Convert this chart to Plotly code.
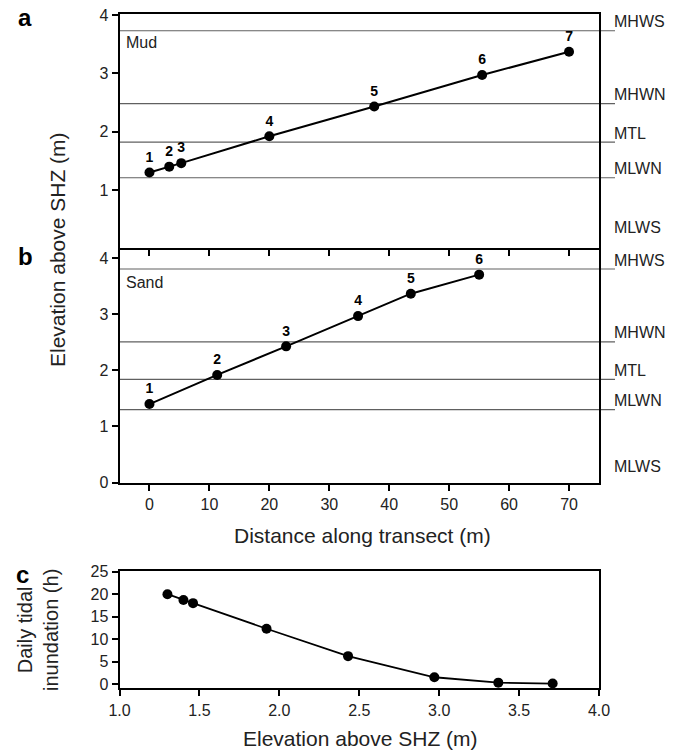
import plotly.graph_objects as go

# ---- data ----
mud_dist = [0, 3.3, 5.3, 20, 37.5, 55.5, 70]
mud_elev = [1.30, 1.40, 1.46, 1.92, 2.43, 2.97, 3.37]
mud_ids = ["1", "2", "3", "4", "5", "6", "7"]

sand_dist = [0, 11.3, 22.8, 34.8, 43.6, 55]
sand_elev = [1.40, 1.92, 2.43, 2.97, 3.37, 3.71]
sand_ids = ["1", "2", "3", "4", "5", "6"]

inund_elev = [1.30, 1.40, 1.46, 1.92, 2.43, 2.97, 3.37, 3.71]
inund_hours = [20.0, 18.7, 18.0, 12.3, 6.2, 1.5, 0.3, 0.1]

level_names = ["MHWS", "MHWN", "MTL", "MLWN", "MLWS"]
mud_levels = [3.73, 2.48, 1.82, 1.21, 0.21]
sand_levels = [3.81, 2.51, 1.84, 1.30, 0.12]

dist_ticks = [0, 10, 20, 30, 40, 50, 60, 70]
elev_ticks = [0, 1, 2, 3, 4]
hour_ticks = [0, 5, 10, 15, 20, 25]
c_x_ticks = [1.0, 1.5, 2.0, 2.5, 3.0, 3.5, 4.0]

# ---- layout geometry (pixels) ----
W, H = 684, 752
FONT = "Liberation Sans, Arial, sans-serif"
xl, xr = 119.5, 599.0


def px(v):
    return v / W


def py(v):
    return 1 - v / H


fig = go.Figure()

fig.add_trace(go.Scatter(
    x=mud_dist, y=mud_elev, mode="lines+markers+text", text=mud_ids,
    textposition="top center",
    textfont=dict(family=FONT, size=14, color="black", weight="bold"),
    line=dict(color="black", width=2), marker=dict(color="black", size=10),
    xaxis="x", yaxis="y", showlegend=False, cliponaxis=False))

fig.add_trace(go.Scatter(
    x=sand_dist, y=sand_elev, mode="lines+markers+text", text=sand_ids,
    textposition="top center",
    textfont=dict(family=FONT, size=14, color="black", weight="bold"),
    line=dict(color="black", width=2), marker=dict(color="black", size=10),
    xaxis="x2", yaxis="y2", showlegend=False, cliponaxis=False))

fig.add_trace(go.Scatter(
    x=inund_elev, y=inund_hours, mode="lines+markers",
    line=dict(color="black", width=1.8), marker=dict(color="black", size=10),
    xaxis="x3", yaxis="y3", showlegend=False, cliponaxis=False))

axis_common = dict(showline=True, linecolor="black", linewidth=2, mirror=True,
                   showgrid=False, zeroline=False, tickcolor="black",
                   ticklen=6, tickwidth=1.5,
                   tickfont=dict(family=FONT, size=16, color="#222"))

fig.update_layout(
    width=W, height=H, margin=dict(l=0, r=0, t=0, b=0, autoexpand=False),
    paper_bgcolor="white", plot_bgcolor="white",
    xaxis=dict(axis_common, domain=[px(xl), px(xr)], range=[-5, 75],
               tickvals=dist_ticks, ticks="outside", showticklabels=False,
               anchor="y"),
    yaxis=dict(axis_common, domain=[py(248.3), py(14)], range=[0, 4.017],
               tickvals=[1, 2, 3, 4], ticks="outside", anchor="x"),
    xaxis2=dict(axis_common, domain=[px(xl), px(xr)], range=[-5, 75],
                tickvals=dist_ticks, ticks="outside", anchor="y2",
                mirror=False),
    yaxis2=dict(axis_common, domain=[py(482.5), py(248.3)], range=[0, 4.18],
                tickvals=elev_ticks, ticks="outside", anchor="x2"),
    xaxis3=dict(axis_common, domain=[px(xl), px(xr)], range=[1, 4],
                tickvals=c_x_ticks, ticktext=[f"{v:.1f}" for v in c_x_ticks],
                ticks="outside", anchor="y3"),
    yaxis3=dict(axis_common, domain=[py(688.3), py(571)], range=[-0.96, 25.16],
                tickvals=hour_ticks, ticks="outside", anchor="x3"),
)

shapes = []
annotations = []
for yref, levels in (("y", mud_levels), ("y2", sand_levels)):
    for name, val in zip(level_names, levels):
        if name != "MLWS":
            shapes.append(dict(type="line", xref="paper", yref=yref,
                               x0=px(xl), x1=px(615), y0=val, y1=val,
                               line=dict(color="#606060", width=1.1),
                               layer="below"))
        annotations.append(dict(x=px(612), y=val, xref="paper", yref=yref,
                                text=name, showarrow=False, xanchor="left",
                                yanchor="middle", yshift=9,
                                font=dict(family=FONT, size=16, color="#222")))

annotations += [
    dict(x=px(124), y=py(42.5), xref="paper", yref="paper", text="Mud",
         showarrow=False, xanchor="left", yanchor="middle",
         font=dict(family=FONT, size=16, color="#222")),
    dict(x=px(124), y=py(282), xref="paper", yref="paper", text="Sand",
         showarrow=False, xanchor="left", yanchor="middle",
         font=dict(family=FONT, size=16, color="#222")),
    dict(x=px(25), y=py(18), xref="paper", yref="paper", text="<b>a</b>",
         showarrow=False, xanchor="center", yanchor="middle",
         font=dict(family=FONT, size=24, color="black")),
    dict(x=px(25), y=py(256), xref="paper", yref="paper", text="<b>b</b>",
         showarrow=False, xanchor="center", yanchor="middle",
         font=dict(family=FONT, size=24, color="black")),
    dict(x=px(22), y=py(574), xref="paper", yref="paper", text="<b>c</b>",
         showarrow=False, xanchor="center", yanchor="middle",
         font=dict(family=FONT, size=24, color="black")),
    dict(x=px(58), y=py(250), xref="paper", yref="paper",
         text="Elevation above SHZ (m)", textangle=-90, showarrow=False,
         xanchor="center", yanchor="middle",
         font=dict(family=FONT, size=21, color="#222")),
    dict(x=px(362), y=py(535), xref="paper", yref="paper",
         text="Distance along transect (m)", showarrow=False,
         xanchor="center", yanchor="middle",
         font=dict(family=FONT, size=21, color="#222")),
    dict(x=px(360), y=py(738), xref="paper", yref="paper",
         text="Elevation above SHZ (m)", showarrow=False,
         xanchor="center", yanchor="middle",
         font=dict(family=FONT, size=21, color="#222")),
    dict(x=px(38), y=py(630), xref="paper", yref="paper",
         text="Daily tidal<br>inundation (h)", textangle=-90, showarrow=False,
         xanchor="center", yanchor="middle",
         font=dict(family=FONT, size=20, color="#222")),
]

fig.update_layout(shapes=shapes, annotations=annotations)
fig.write_html("out.html", config={"displayModeBar": False},
               post_script="document.body.style.margin='0';"
                           "document.body.style.overflow='hidden';")
